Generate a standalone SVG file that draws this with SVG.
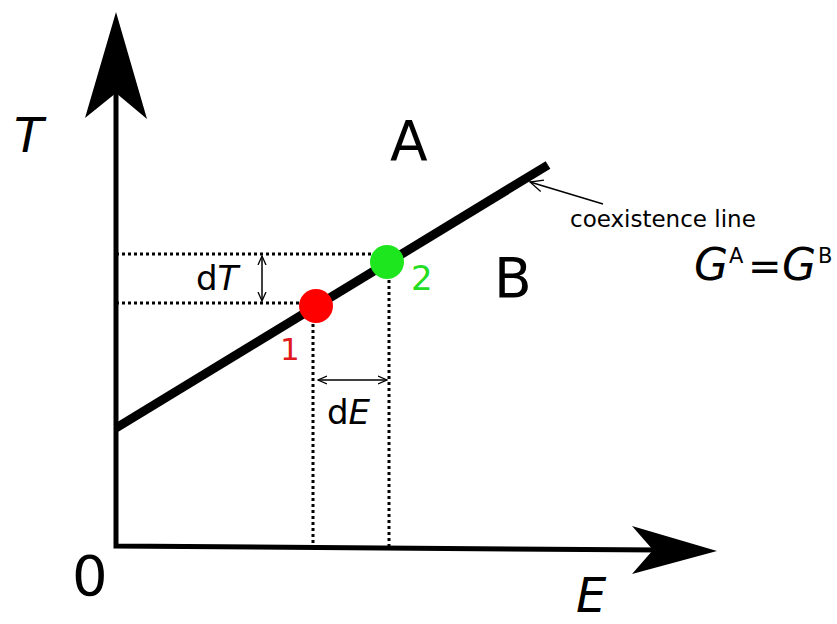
<svg xmlns="http://www.w3.org/2000/svg" width="837" height="624" viewBox="0 0 837 624">
<style>
text{font-family:"DejaVu Sans","Liberation Sans",sans-serif;fill:#000}
.it{font-style:italic}
.dot{stroke:#000;stroke-width:3;stroke-dasharray:3 3;fill:none}
.thin{stroke:#000;stroke-width:1.5;fill:none}
</style>
<defs>
<marker id="v" viewBox="0 0 10 10" refX="9" refY="5" markerWidth="10" markerHeight="10" markerUnits="userSpaceOnUse" orient="auto-start-reverse">
<path d="M0,1 L9,5 L0,9" fill="none" stroke="#000" stroke-width="1.3"/>
</marker>
<marker id="v2" viewBox="0 0 14 14" refX="13" refY="7" markerWidth="14" markerHeight="14" markerUnits="userSpaceOnUse" orient="auto">
<path d="M0,1 L13,7 L0,13" fill="none" stroke="#000" stroke-width="1.3"/>
</marker>
</defs>
<rect width="837" height="624" fill="#fff"/>
<g id="axes">
<path d="M116,92 L116,546 L660,550" fill="none" stroke="#000" stroke-width="5"/>
<polygon points="116,12 147,119 116,93 85,118" fill="#000"/>
<polygon points="717,551 632,574 653,550 632,526" fill="#000"/>
</g>
<g id="connectors">
<line x1="116" y1="254" x2="389" y2="254" class="dot"/>
<line x1="116" y1="303" x2="316" y2="303" class="dot"/>
<line x1="313" y1="306" x2="313" y2="546" class="dot"/>
<line x1="389" y1="262" x2="389" y2="546" class="dot"/>
<line x1="116" y1="428" x2="548" y2="165" stroke="#000" stroke-width="9"/>
<line x1="262" y1="256" x2="262" y2="301" class="thin" marker-start="url(#v)" marker-end="url(#v)"/>
<line x1="318" y1="380" x2="387" y2="380" class="thin" marker-start="url(#v)" marker-end="url(#v)"/>
<line x1="603" y1="204" x2="530" y2="182" class="thin" marker-end="url(#v2)"/>
</g>
<g id="point1">
<circle cx="316" cy="306" r="17" fill="#f00"/>
<text x="280" y="360" font-size="31" style="fill:#e0191e">1</text>
</g>
<g id="point2">
<circle cx="387" cy="262" r="17" fill="#1ee61e"/>
<text x="411" y="290" font-size="34" style="fill:#22dd22">2</text>
</g>
<g id="labels">
<text x="14" y="152" font-size="48" class="it">T</text>
<text x="390" y="160" font-size="55">A</text>
<text x="494" y="297" font-size="55">B</text>
<text x="570" y="227" font-size="23">coexistence line</text>
<text x="694" y="280" font-size="44" class="it">G</text>
<text x="729" y="263" font-size="21">A</text>
<text x="748" y="280" font-size="40">=</text>
<text x="782" y="280" font-size="44" class="it">G</text>
<text x="818" y="263" font-size="21">B</text>
<text x="196" y="290" font-size="34">d<tspan class="it">T</tspan></text>
<text x="327" y="424" font-size="34">d<tspan class="it">E</tspan></text>
<text x="72" y="595" font-size="56">0</text>
<text x="576" y="612" font-size="48" class="it">E</text>
</g>
</svg>
